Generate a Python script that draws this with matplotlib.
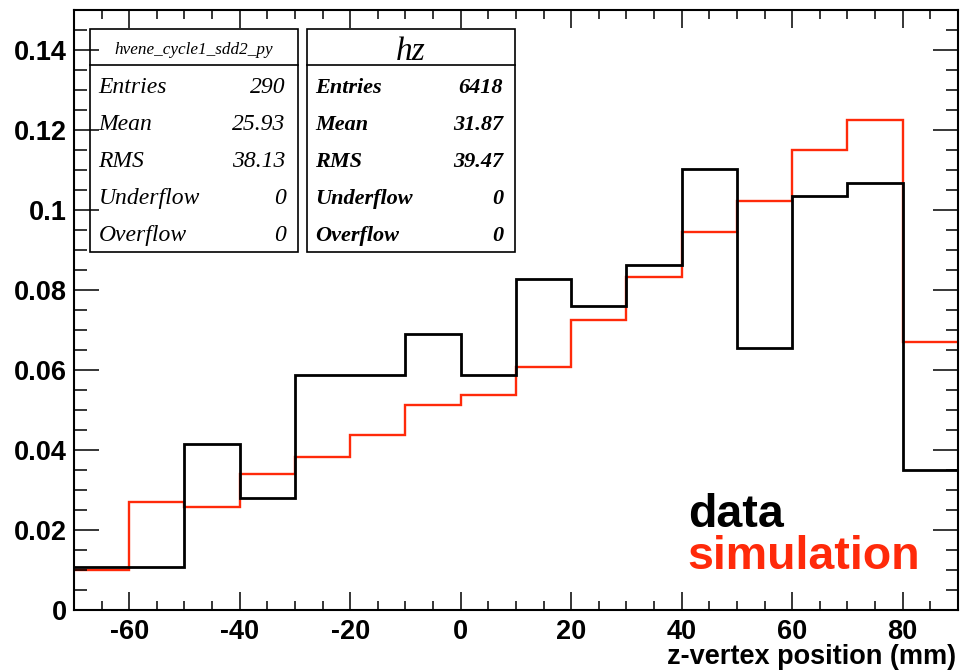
import matplotlib
matplotlib.use("Agg")
import matplotlib.pyplot as plt
from matplotlib.patches import Rectangle
from matplotlib.ticker import MultipleLocator
import numpy as np

plt.rcParams["axes.unicode_minus"] = False

# binning of the z-vertex histograms (mm)
bin_edges = np.arange(-70, 91, 10)

# normalised counts per bin
data_counts = [0.0107, 0.0107, 0.0415, 0.0278, 0.0586, 0.0586, 0.0690, 0.0586,
               0.0827, 0.0758, 0.0861, 0.1101, 0.0655, 0.1033, 0.1067, 0.0348]
sim_counts = [0.0099, 0.0269, 0.0257, 0.0340, 0.0382, 0.0436, 0.0511, 0.0536,
              0.0607, 0.0725, 0.0832, 0.0944, 0.1021, 0.1150, 0.1224, 0.0669]

# stat box contents
stat_labels = ["Entries", "Mean", "RMS", "Underflow", "Overflow"]
data_name = "hvene_cycle1_sdd2_py"
data_stats = ["290", "25.93", "38.13", "0", "0"]
sim_name = "hz"
sim_stats = ["6418", "31.87", "39.47", "0", "0"]

RED = "#ff2a0a"
W, H = 960, 670


def fx(x):
   return x / W


def fy(y):
   return 1 - y / H


fig = plt.figure(figsize=(W / 100, H / 100), dpi=100)
ax = fig.add_axes([fx(74), fy(609.5), 884 / W, 599.5 / H])

ax.stairs(sim_counts, bin_edges, baseline=None, color=RED, lw=1.7, zorder=1.8)
ax.stairs(data_counts, bin_edges, baseline=None, color="black", lw=2.0, zorder=1.9)

ax.set_xlim(-70, 90)
ax.set_ylim(0, 0.1499)
ax.set_axisbelow(False)

ax.xaxis.set_major_locator(MultipleLocator(20))
ax.xaxis.set_minor_locator(MultipleLocator(5))
ax.yaxis.set_major_locator(MultipleLocator(0.02))
ax.yaxis.set_minor_locator(MultipleLocator(0.005))
ax.yaxis.set_major_formatter(lambda v, p: "0" if abs(v) < 1e-9 else ("%.2f" % v).rstrip("0"))

ax.tick_params(axis="both", which="both", direction="in", top=True, right=True, width=1.1)
ax.tick_params(axis="x", which="major", length=13, pad=6.5)
ax.tick_params(axis="x", which="minor", length=6.5)
ax.tick_params(axis="y", which="major", length=18, pad=5)
ax.tick_params(axis="y", which="minor", length=9)
for lab in ax.get_xticklabels() + ax.get_yticklabels():
   lab.set_fontfamily("Liberation Sans")
   lab.set_fontweight("bold")
   lab.set_fontsize(19.5)
for sp in ax.spines.values():
   sp.set_linewidth(1.5)

ax.set_xlabel("z-vertex position (mm)", fontfamily="Liberation Sans", fontweight="bold",
              fontsize=19.5, ha="right", va="baseline")
ax.xaxis.set_label_coords(0.998, (609.5 - 664) / 599.5)


def stat_box(left, right, name, name_size, name_base, values, bold):
   top, sep, bottom = 28.5, 65, 252
   ax.add_patch(Rectangle((fx(left), fy(bottom)), (right - left) / W, (bottom - top) / H,
                          transform=fig.transFigure, facecolor="white", edgecolor="black",
                          lw=1.2, zorder=2.2, clip_on=False))
   ax.plot([fx(left), fx(right)], [fy(sep), fy(sep)], color="black", lw=1.2,
           transform=fig.transFigure, zorder=2.3, clip_on=False)
   ax.text(fx((left + right) / 2), fy(name_base), name, transform=fig.transFigure,
           ha="center", va="baseline", fontfamily="Liberation Serif", fontstyle="italic",
           fontsize=name_size, zorder=2.4)
   weight = "bold" if bold else "normal"
   size = 16 if bold else 17
   for i, (lab, val) in enumerate(zip(stat_labels, values)):
      y = fy(93.3 + 36.8 * i)
      ax.text(fx(left + 9), y, lab, transform=fig.transFigure, ha="left", va="baseline",
              fontfamily="Liberation Serif", fontstyle="italic", fontweight=weight,
              fontsize=size, zorder=2.4)
      ax.text(fx(right - 12), y, val, transform=fig.transFigure, ha="right", va="baseline",
              fontfamily="Liberation Serif", fontstyle="italic", fontweight=weight,
              fontsize=size, zorder=2.4)


stat_box(89.5, 297.5, data_name, 12.3, 54.5, data_stats, False)
stat_box(306.5, 515, sim_name, 24, 59.5, sim_stats, True)

ax.text(fx(688), fy(527), "data", transform=fig.transFigure, ha="left", va="baseline",
        fontfamily="Liberation Sans", fontweight="bold", fontsize=33.5, color="black")
ax.text(fx(687), fy(569), "simulation", transform=fig.transFigure, ha="left", va="baseline",
        fontfamily="Liberation Sans", fontweight="bold", fontsize=33.5, color=RED)

fig.savefig("out.png", dpi=100)
